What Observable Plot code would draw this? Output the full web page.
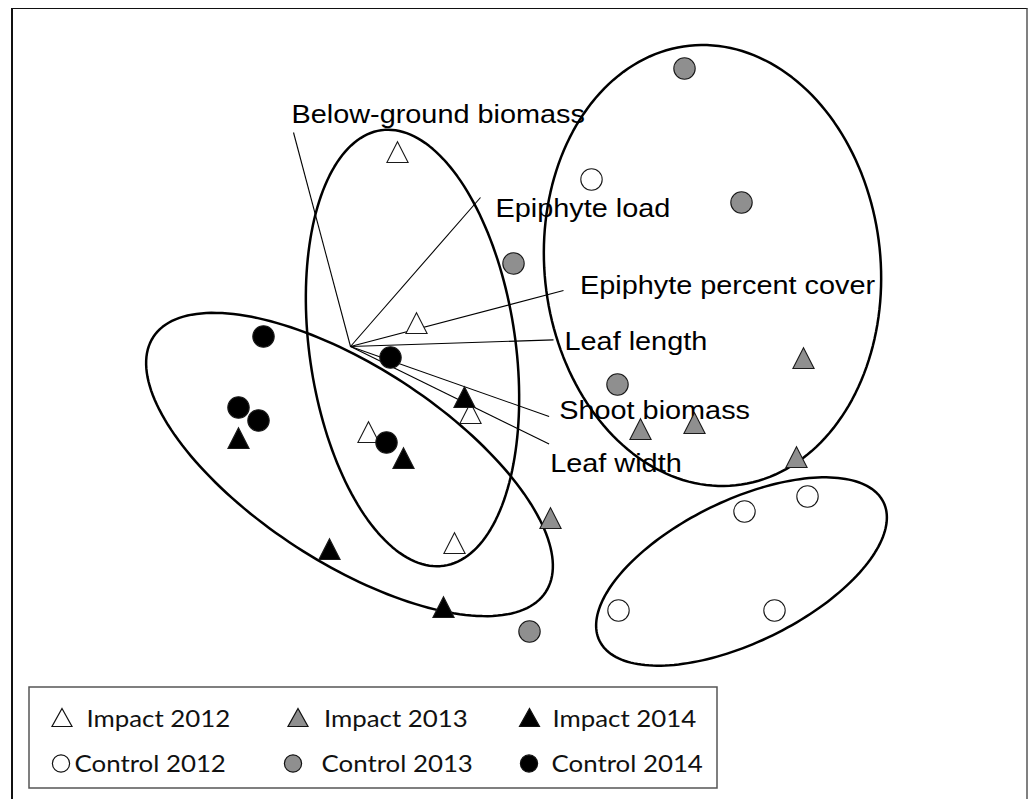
<!DOCTYPE html>
<html>
<head>
<meta charset="utf-8">
<script src="https://cdn.jsdelivr.net/npm/d3@7"></script>
<script src="https://cdn.jsdelivr.net/npm/@observablehq/plot@0.6"></script>
<style>
html, body { margin: 0; padding: 0; background: #fff; overflow: hidden; width: 1031px; height: 799px; }
#frame { position: absolute; left: 11px; top: 8px; width: 1013px; height: 900px;
  border-left: 2px solid #111; border-top: 1.5px solid #111; border-right: 2.5px solid #808080; }
#chart { position: absolute; left: 0; top: 0; }
#legend { position: absolute; left: 0; top: 0; }
</style>
</head>
<body>
<div id="frame"></div>
<div id="chart"></div>
<div id="legend"></div>
<script>
// ---- nMDS sample scores (ordination units) ----
const impact2012X = [0.235, 0.330, 0.600, 0.090, 0.520];
const impact2012Y = [0.955, 0.100, -0.350, -0.445, -1.000];
const impact2013X = [2.265, 1.450, 1.720, 2.230, 1.000];
const impact2013Y = [-0.075, -0.430, -0.400, -0.570, -0.875];
const impact2014X = [0.570, 0.265, -0.560, -0.105, 0.465];
const impact2014Y = [-0.270, -0.575, -0.475, -1.030, -1.320];
const control2012X = [1.205, 1.970, 2.285, 1.340, 2.120];
const control2012Y = [0.835, -0.825, -0.750, -1.320, -1.320];
const control2013X = [1.670, 1.955, 0.815, 1.335, 0.895];
const control2013Y = [1.390, 0.720, 0.415, -0.190, -1.425];
const control2014X = [-0.435, 0.200, -0.560, -0.460, 0.180];
const control2014Y = [0.050, -0.055, -0.305, -0.370, -0.480];

const groupNames = ["Impact 2012", "Impact 2013", "Impact 2014", "Control 2012", "Control 2013", "Control 2014"];
const groupXs = [impact2012X, impact2013X, impact2014X, control2012X, control2013X, control2014X];
const groupYs = [impact2012Y, impact2013Y, impact2014Y, control2012Y, control2013Y, control2014Y];
const groupShape = ["triangle", "triangle", "triangle", "circle", "circle", "circle"];
const groupFill = ["#ffffff", "#8f8f8f", "#000000", "#ffffff", "#8f8f8f", "#000000"];

// ---- variable vectors (correlation loadings) ----
const variableNames = ["Below-ground biomass", "Epiphyte load", "Epiphyte percent cover", "Leaf length", "Shoot biomass", "Leaf width"];
const loadingX = [-0.285, 0.650, 1.065, 1.015, 0.993, 0.993];
const loadingY = [1.070, 0.745, 0.280, 0.033, -0.350, -0.488];
const labelX = [-0.295, 0.725, 1.1475, 1.070, 1.0435, 0.9985];
const labelY = [1.1175, 0.6475, 0.2625, -0.015, -0.360, -0.6275];

// ---- grouping ellipses ----
const ellipseCx = [0.310, -0.005, 1.810, 1.955];
const ellipseCy = [-0.0075, -0.590, 0.405, -1.125];
const ellipseA = [1.100, 1.170, 1.105, 0.790];
const ellipseB = [0.515, 0.490, 0.840, 0.355];
const ellipseAngle = [98.2, -33, 96, 26];

// build tables
const points = groupNames.flatMap((g, i) => groupXs[i].map((x, j) => ({group: g, gi: i, x, y: groupYs[i][j]})));
const ellipsePts = ellipseCx.flatMap((cx, i) => {
  const phi = ellipseAngle[i] * Math.PI / 180;
  return d3.range(0, 360, 2).map(t => {
    const th = t * Math.PI / 180;
    const u = ellipseA[i] * Math.cos(th), v = ellipseB[i] * Math.sin(th);
    return {e: i, x: cx + u * Math.cos(phi) - v * Math.sin(phi), y: ellipseCy[i] + u * Math.sin(phi) + v * Math.cos(phi)};
  });
});

const tri = {
  draw(ctx, size) {
    const r = Math.sqrt(size / Math.PI);
    const h = 2 * r * 0.98;
    ctx.moveTo(0, -2 * h / 3);
    ctx.lineTo(r, h / 3);
    ctx.lineTo(-r, h / 3);
    ctx.closePath();
  }
};

const dotMarks = groupNames.map((g, i) => Plot.dot(points.filter(d => d.gi === i), {
  x: "x", y: "y",
  r: groupShape[i] === "triangle" ? 10.6 : 10.7,
  symbol: groupShape[i] === "triangle" ? tri : "circle",
  fill: groupFill[i],
  stroke: "#1a1a1a",
  strokeWidth: 1.1
}));

const chart = Plot.plot({
  width: 1031,
  height: 680,
  margin: 0,
  x: {domain: [-1.75, 3.405], axis: null},
  y: {domain: [-1.67, 1.73], axis: null},
  style: {background: "transparent", overflow: "visible"},
  marks: [
    Plot.line(ellipsePts, {x: "x", y: "y", z: "e", stroke: "#000", strokeWidth: 2.5, curve: "linear-closed"}),
    Plot.link(variableNames, {x1: variableNames.map(() => 0), y1: variableNames.map(() => 0), x2: loadingX, y2: loadingY, stroke: "#000", strokeWidth: 1.1}),
    Plot.text(variableNames, {x: labelX, y: labelY, text: d => d, textAnchor: "start", lineAnchor: "bottom",
      fontSize: 26, fontFamily: "Liberation Sans, Arial, sans-serif", fill: "#000"}),
    ...dotMarks
  ]
});
document.getElementById("chart").appendChild(chart);

// horizontally widen the label type to match the figure's stretched lettering
chart.querySelectorAll("g[aria-label='text'] text").forEach(t => {
  const tr = t.getAttribute("transform");
  if (tr) t.setAttribute("transform", tr + " scale(1.11,1)");
  else {
    const x = +t.getAttribute("x") || 0, y = +t.getAttribute("y") || 0;
    t.setAttribute("transform", `translate(${x},${y}) scale(1.11,1) translate(${-x},${-y})`);
  }
});

// ---- legend ----
const leg = d3.select("#legend").append("svg").attr("width", 1031).attr("height", 799);
leg.append("rect").attr("x", 29).attr("y", 687).attr("width", 688).attr("height", 101)
  .attr("fill", "none").attr("stroke", "#555").attr("stroke-width", 1.5);
const legSymX = [62, 298, 529.5, 61, 293, 529];
const legSymY = [717.5, 717.5, 717.5, 763.5, 763.5, 763.5];
const legTextX = [86.5, 324, 552.5, 74.5, 321.5, 551.5];
const legTextY = [726.5, 726.5, 726.5, 771.5, 771.5, 771.5];
groupNames.forEach((g, i) => {
  const sx = legSymX[i], sy = legSymY[i];
  if (groupShape[i] === "triangle") {
    leg.append("path").attr("d", `M${sx},${sy - 9}L${sx + 10},${sy + 9}L${sx - 10},${sy + 9}Z`)
      .attr("fill", groupFill[i]).attr("stroke", "#111").attr("stroke-width", 1.2);
  } else {
    leg.append("circle").attr("cx", sx).attr("cy", sy).attr("r", 8.6)
      .attr("fill", groupFill[i]).attr("stroke", "#111").attr("stroke-width", 1.2);
  }
  leg.append("text").attr("transform", `translate(${legTextX[i]},${legTextY[i]}) scale(1.16,1)`)
    .attr("font-family", "Lato, 'Open Sans', sans-serif").attr("font-size", 22.3).attr("fill", "#111")
    .text(g);
});
</script>
</body>
</html>
